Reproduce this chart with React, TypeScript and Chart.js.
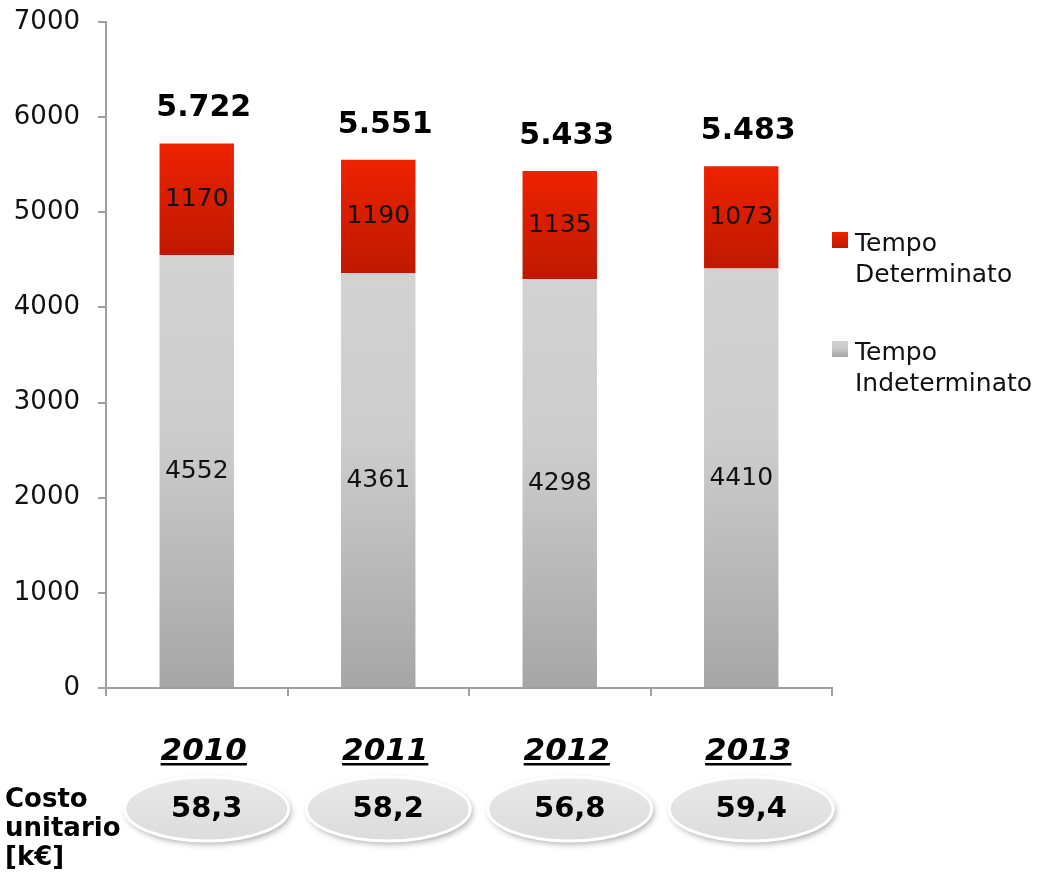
import React, { useEffect, useRef } from "react";
import { Chart, registerables } from "chart.js";

Chart.register(...registerables);

const FONT = "'DejaVu Sans', Verdana, sans-serif";

const years = ["2010", "2011", "2012", "2013"];
const tempoIndeterminato = [4552, 4361, 4298, 4410];
const tempoDeterminato = [1170, 1190, 1135, 1073];
const costoUnitario = [58.3, 58.2, 56.8, 59.4];
const seriesNames = ["Tempo Indeterminato", "Tempo Determinato"];
const yMax = 7000;
const yStep = 1000;
const costoLabel = ["Costo", "unitario", "[k€]"];

const fmtThousands = (v: number) => String(v).replace(/\B(?=(\d{3})+(?!\d))/g, ".");
const fmtDecimal = (v: number) => v.toFixed(1).replace(".", ",");

function okNum(...v: number[]) {
  return v.every((n) => Number.isFinite(n));
}

function redGradient(ctx: CanvasRenderingContext2D, top: number, bottom: number) {
  if (!okNum(top, bottom) || top === bottom) return "#dd2000";
  const g = ctx.createLinearGradient(0, top, 0, bottom);
  g.addColorStop(0, "#ee2200");
  g.addColorStop(1, "#bf1900");
  return g;
}
function grayGradient(ctx: CanvasRenderingContext2D, top: number, bottom: number) {
  if (!okNum(top, bottom) || top === bottom) return "#c8c8c8";
  const g = ctx.createLinearGradient(0, top, 0, bottom);
  g.addColorStop(0, "#d2d2d2");
  g.addColorStop(0.4, "#cdcdcd");
  g.addColorStop(1, "#a6a6a6");
  return g;
}

const overlay = {
  id: "overlay",
  afterDatasetsDraw(chart: any) {
    const ctx: CanvasRenderingContext2D = chart.ctx;
    const xs = chart.scales.x;
    const ys = chart.scales.y;
    const area = chart.chartArea;
    ctx.save();
    ctx.textAlign = "center";
    years.forEach((yr, i) => {
      const cx = xs.getPixelForValue(i);
      const base = tempoIndeterminato[i];
      const det = tempoDeterminato[i];
      const total = base + det;
      ctx.font = `25px ${FONT}`;
      ctx.fillStyle = "#111";
      ctx.textBaseline = "middle";
      ctx.fillText(String(base), cx, (ys.getPixelForValue(0) + ys.getPixelForValue(base)) / 2);
      ctx.fillText(String(det), cx, (ys.getPixelForValue(base) + ys.getPixelForValue(total)) / 2);
      ctx.font = `bold 30px ${FONT}`;
      ctx.fillStyle = "#000";
      ctx.fillText(fmtThousands(total), cx + 7, ys.getPixelForValue(total) - 35);
      ctx.font = `italic bold 31px ${FONT}`;
      ctx.textBaseline = "alphabetic";
      const yx = cx + 7;
      ctx.fillText(yr, yx, 760);
      const w = ctx.measureText(yr).width;
      ctx.fillRect(yx - w / 2, 763, w, 2.5);
      const ex = cx + 10;
      const ey = 809;
      ctx.save();
      ctx.shadowColor = "rgba(0,0,0,0.35)";
      ctx.shadowBlur = 6;
      ctx.shadowOffsetX = 2;
      ctx.shadowOffsetY = 3;
      ctx.beginPath();
      ctx.ellipse(ex, ey, 82, 32, 0, 0, Math.PI * 2);
      const eg = ctx.createLinearGradient(0, ey - 32, 0, ey + 32);
      eg.addColorStop(0, "#e8e8e8");
      eg.addColorStop(1, "#dcdcdc");
      ctx.fillStyle = eg;
      ctx.fill();
      ctx.restore();
      ctx.beginPath();
      ctx.ellipse(ex, ey, 82, 32, 0, 0, Math.PI * 2);
      ctx.lineWidth = 3;
      ctx.strokeStyle = "#ffffff";
      ctx.stroke();
      ctx.font = `bold 29px ${FONT}`;
      ctx.fillStyle = "#000";
      ctx.textBaseline = "middle";
      ctx.fillText(fmtDecimal(costoUnitario[i]), ex, ey);
    });
    ctx.textAlign = "left";
    ctx.textBaseline = "alphabetic";
    ctx.font = `bold 26px ${FONT}`;
    ctx.fillStyle = "#000";
    costoLabel.forEach((t, k) => ctx.fillText(t, 5, 807 + k * 29));
    const lx = area.right;
    const entries = [
      { name: seriesNames[1], top: 232, grad: redGradient },
      { name: seriesNames[0], top: 341, grad: grayGradient },
    ];
    ctx.font = `25px ${FONT}`;
    entries.forEach((e) => {
      ctx.fillStyle = e.grad(ctx, e.top, e.top + 16);
      ctx.fillRect(lx, e.top, 16, 16);
      ctx.fillStyle = "#111";
      const parts = e.name.split(" ");
      parts.forEach((p, k) => ctx.fillText(p, lx + 23, e.top + 19 + k * 31));
    });
    ctx.restore();
  },
};

export default function App() {
  const ref = useRef<HTMLCanvasElement | null>(null);
  useEffect(() => {
    if (!ref.current) return;
    const axisColor = "#a0a0a0";
    const chart = new Chart(ref.current, {
      type: "bar",
      data: {
        labels: years,
        datasets: [
          {
            label: seriesNames[0],
            data: tempoIndeterminato,
            backgroundColor: (c: any) => {
              const ch = c.chart;
              const ys = ch.scales && ch.scales.y;
              if (!ys || c.dataIndex === undefined) return "#c8c8c8";
              return grayGradient(ch.ctx, ys.getPixelForValue(tempoIndeterminato[c.dataIndex]), ys.getPixelForValue(0));
            },
            borderWidth: 0,
            barPercentage: 0.41,
            categoryPercentage: 1,
          },
          {
            label: seriesNames[1],
            data: tempoDeterminato,
            backgroundColor: (c: any) => {
              const ch = c.chart;
              const ys = ch.scales && ch.scales.y;
              if (!ys || c.dataIndex === undefined) return "#dd2000";
              const b = tempoIndeterminato[c.dataIndex];
              return redGradient(ch.ctx, ys.getPixelForValue(b + tempoDeterminato[c.dataIndex]), ys.getPixelForValue(b));
            },
            borderWidth: 0,
            barPercentage: 0.41,
            categoryPercentage: 1,
          },
        ],
      },
      options: {
        responsive: false,
        maintainAspectRatio: false,
        animation: false,
        layout: { padding: { left: 0, right: 226, top: 22, bottom: 0 } },
        plugins: { legend: { display: false }, tooltip: { enabled: false } },
        scales: {
          x: {
            stacked: true,
            grid: { display: true, drawOnChartArea: false, drawTicks: true, tickLength: 8, color: axisColor, lineWidth: 2, offset: true },
            border: { display: true, color: axisColor, width: 2 },
            ticks: { display: false },
            afterFit: (s: any) => { s.height = 186; s.paddingLeft = 0; s.paddingRight = 0; },
          },
          y: {
            stacked: true,
            min: 0,
            max: yMax,
            ticks: {
              stepSize: yStep,
              font: { family: FONT, size: 26 },
              color: "#111",
              padding: 18,
              callback: (v: any) => String(v),
            },
            grid: { display: true, drawOnChartArea: false, drawTicks: true, tickLength: 8, color: axisColor, lineWidth: 2 },
            border: { display: true, color: axisColor, width: 2 },
            afterFit: (s: any) => { s.width = 106; s.paddingTop = 0; s.paddingBottom = 0; },
          },
        },
      } as any,
      plugins: [overlay],
    });
    return () => chart.destroy();
  }, []);
  return (
    <div style={{ position: "absolute", left: 0, top: 0, width: 1058, height: 874, background: "#fff" }}>
      <canvas ref={ref} width={1058} height={874} style={{ width: 1058, height: 874, display: "block" }} />
    </div>
  );
}
